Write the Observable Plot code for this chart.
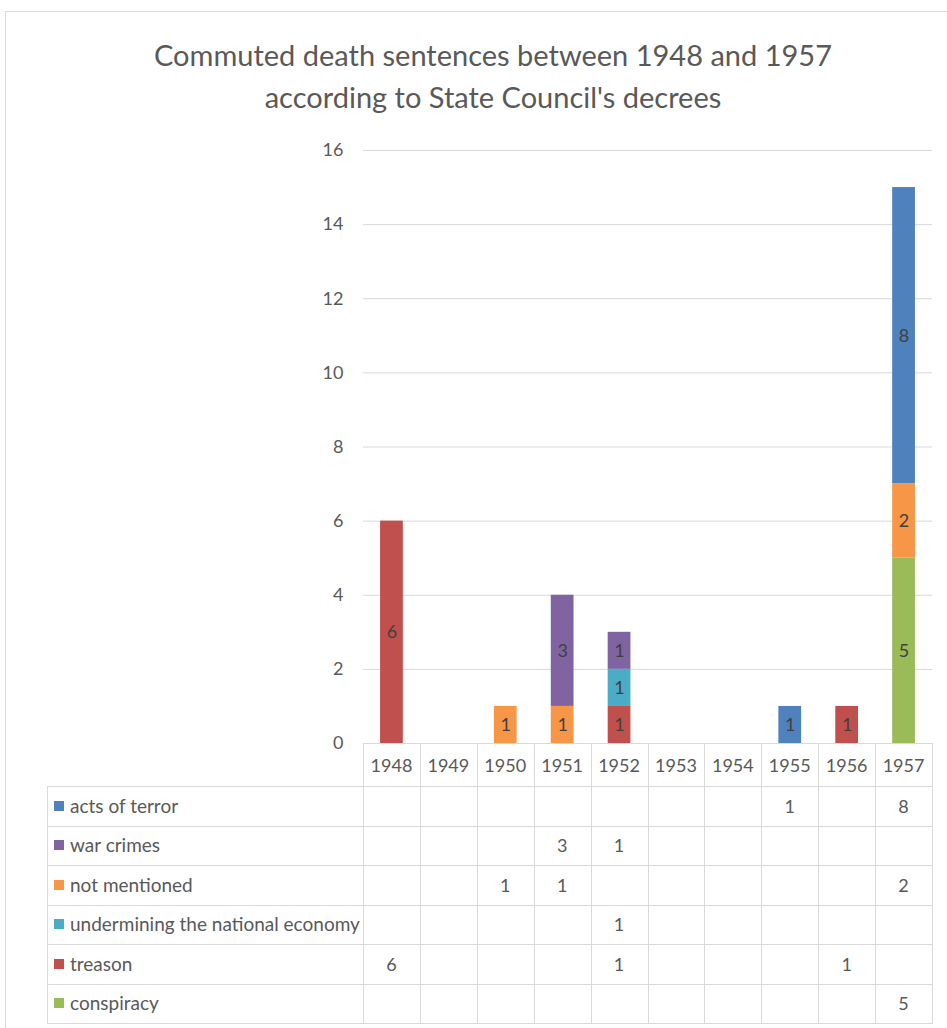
<!DOCTYPE html>
<html><head><meta charset="utf-8">
<script src="https://cdn.jsdelivr.net/npm/d3@7"></script>
<script src="https://cdn.jsdelivr.net/npm/@observablehq/plot@0.6"></script>
<style>
body{margin:0;background:#fff;}
#wrap{position:relative;width:947px;height:1028px;overflow:hidden;font-family:Lato,"Open Sans",sans-serif;background:#fff;}
#border{position:absolute;left:5px;top:11px;width:1000px;height:1100px;border:1px solid #d9d9d9;}
#title{position:absolute;left:0;top:34px;width:986px;text-align:center;font-size:29px;line-height:42px;color:#595959;}
#chart{position:absolute;left:0;top:130px;}
.ln{position:absolute;background:#d9d9d9;}
.cell{position:absolute;color:#595959;font-size:18px;text-align:center;white-space:nowrap;line-height:20px;}
.lab{position:absolute;color:#595959;font-size:19px;white-space:nowrap;line-height:20px;}
.sw{display:inline-block;width:10px;height:10px;margin-right:6px;vertical-align:middle;position:relative;top:-2px;}
</style></head>
<body>
<div id="wrap">
<div id="border"></div>
<div id="title">Commuted death sentences between 1948 and 1957<br>according to State Council's decrees</div>
<div id="chart"></div>
</div>
<script>
const years = ["1948","1949","1950","1951","1952","1953","1954","1955","1956","1957"];
const categories = ["acts of terror","war crimes","not mentioned","undermining the national economy","treason","conspiracy"];
const colors = ["#4f81bd","#8064a2","#f79646","#4bacc6","#c0504d","#9bbb59"];
const actsOfTerror = [null,null,null,null,null,null,null,1,null,8];
const warCrimes    = [null,null,null,3,1,null,null,null,null,null];
const notMentioned = [null,null,1,1,null,null,null,null,null,2];
const undermining  = [null,null,null,null,1,null,null,null,null,null];
const treason      = [6,null,null,null,1,null,null,null,1,null];
const conspiracy   = [null,null,null,null,null,null,null,null,null,5];
const yTicks = [0,2,4,6,8,10,12,14,16];

const series = [actsOfTerror, warCrimes, notMentioned, undermining, treason, conspiracy];
const data = [];
categories.forEach((c,i)=>series[i].forEach((v,j)=>{ if(v!=null) data.push({year:years[j],category:c,value:v}); }));
const stackOrder = categories.slice().reverse();

const chart = Plot.plot({
  width:947, height:615, marginTop:20, marginBottom:2, marginLeft:363, marginRight:15,
  style:{fontFamily:"Lato, 'Open Sans', sans-serif", fontSize:"18px", color:"#595959", background:"transparent", overflow:"visible"},
  x:{domain:years, paddingInner:0.6, paddingOuter:0.3, round:false, axis:null},
  y:{domain:[0,16], axis:null},
  color:{domain:categories, range:colors},
  marks:[
    Plot.gridY(yTicks, {stroke:"#d9d9d9", strokeOpacity:1}),
    Plot.axisY(yTicks, {tickSize:0, tickPadding:20, fill:"#595959", label:null}),
    Plot.barY(data, {x:"year", y:"value", fill:"category", order:stackOrder}),
    Plot.text(data, Plot.stackY({x:"year", y:"value", z:"category", text:"value", order:stackOrder, fill:"#404040", fontSize:18}))
  ]
});
document.getElementById("chart").appendChild(chart);

// data table under the chart, aligned with the x scale
const xs = chart.scale("x");
const step = xs.step, half = xs.bandwidth / 2;
const colLeft = years.map(y => xs.apply(y) + half - step / 2);
const xStart = colLeft[0], xEnd = colLeft[colLeft.length - 1] + step;
const tLeft = 47, axisY = 743, headBottom = 786, rowH = 39.5;
const rowTops = categories.map((c, i) => headBottom + i * rowH);
const tBottom = headBottom + categories.length * rowH;
const wrap = d3.select("#wrap");
function hline(x1, x2, y){ wrap.append("div").attr("class","ln").style("left",x1+"px").style("top",y+"px").style("width",(x2-x1+1)+"px").style("height","1px"); }
function vline(x, y1, y2){ wrap.append("div").attr("class","ln").style("left",x+"px").style("top",y1+"px").style("width","1px").style("height",(y2-y1+1)+"px"); }
hline(xStart, xEnd, axisY);
[headBottom, ...rowTops.slice(1), tBottom].forEach(y => hline(tLeft, xEnd, y));
vline(tLeft, headBottom, tBottom);
[...colLeft, xEnd].forEach(x => vline(x, axisY, tBottom));
years.forEach((y, j) => {
  wrap.append("div").attr("class","cell").style("left",colLeft[j]+"px").style("width",step+"px")
    .style("top",(axisY + (headBottom-axisY)/2 - 10)+"px").text(y);
});
categories.forEach((c, i) => {
  const top = rowTops[i] + rowH/2 - 10;
  const lab = wrap.append("div").attr("class","lab").style("left",(tLeft+7)+"px").style("top",top+"px");
  lab.append("span").attr("class","sw").style("background",colors[i]);
  lab.append("span").text(c);
  series[i].forEach((v, j) => {
    if (v == null) return;
    wrap.append("div").attr("class","cell").style("left",colLeft[j]+"px").style("width",step+"px")
      .style("top",top+"px").text(v);
  });
});
</script>
</body></html>
